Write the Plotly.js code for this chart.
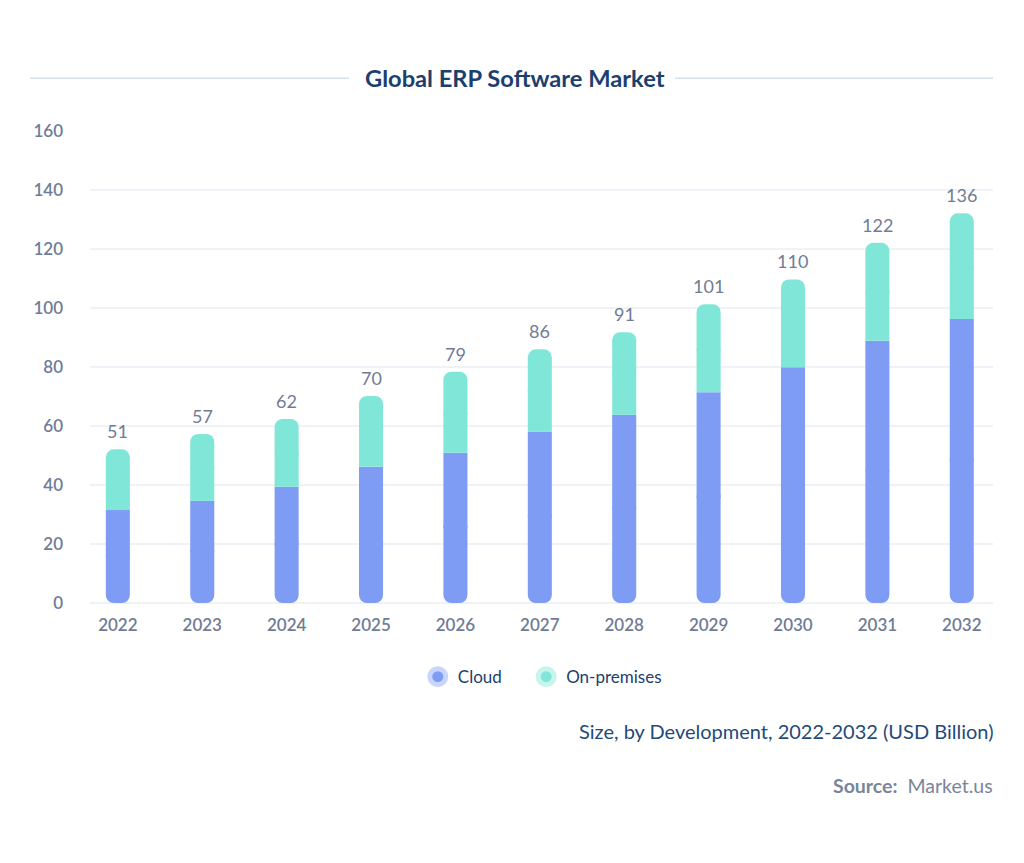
<!DOCTYPE html>
<html>
<head>
<meta charset="utf-8">
<script src="https://cdn.plot.ly/plotly-3.0.1.min.js"></script>
<style>
  html, body { margin: 0; padding: 0; background: #ffffff; }
  #chart { width: 1024px; height: 863px; }
</style>
</head>
<body>
<div id="chart"></div>
<script>
const years = ["2022","2023","2024","2025","2026","2027","2028","2029","2030","2031","2032"];
const cloud = [31.5, 34.6, 39.4, 46.2, 50.9, 58.1, 63.8, 71.4, 79.9, 88.9, 96.3];
const onPremises = [20.6, 22.7, 23.0, 24.0, 27.5, 27.9, 28.0, 29.9, 29.8, 33.2, 35.8];
const totalLabels = ["51","57","62","70","79","86","91","101","110","122","136"];
const seriesNames = ["Cloud", "On-premises"];

const cloudColor = "#7f9cf5";
const premColor = "#80e6d8";
const tickColor = "#6f7c96";
const navy = "#1c406e";
const FONT = "Lato, 'Open Sans', sans-serif";

const totals = cloud.map((v, i) => v + onPremises[i]);
const zeros = cloud.map(() => 0);
const BARW = 0.285;
const OVL = 3; // overlap (in axis units) used to hide the inner rounded corners

// Each segment = rounded outer half + square inner half, so the column has
// rounded top and bottom ends and a flat Cloud / On-premises boundary.
const traces = [
  { // Cloud, lower half (rounded bottom)
    type: "bar", x: years, base: zeros, y: cloud.map(v => v / 2 + OVL),
    name: seriesNames[0], marker: { color: cloudColor, cornerradius: 8 },
    width: BARW, showlegend: false, hoverinfo: "skip"
  },
  { // Cloud, upper half (square)
    type: "bar", x: years, base: cloud.map(v => v / 2), y: cloud.map(v => v / 2),
    name: seriesNames[0], marker: { color: cloudColor, cornerradius: 0 },
    width: BARW, showlegend: false, hoverinfo: "skip"
  },
  { // On-premises, upper half (rounded top)
    type: "bar", x: years, base: onPremises.map((v, i) => cloud[i] + v / 2 - OVL),
    y: onPremises.map(v => v / 2 + OVL),
    name: seriesNames[1], marker: { color: premColor, cornerradius: 8 },
    width: BARW, showlegend: false, hoverinfo: "skip"
  },
  { // On-premises, lower half (square)
    type: "bar", x: years, base: cloud, y: onPremises.map(v => v / 2),
    name: seriesNames[1], marker: { color: premColor, cornerradius: 0 },
    width: BARW, showlegend: false, hoverinfo: "skip"
  },
  {
    type: "scatter", mode: "markers", x: [null], y: [null], name: seriesNames[0],
    legend: "legend",
    marker: { color: cloudColor, size: 16, line: { color: "#c9d5fb", width: 5 } }
  },
  {
    type: "scatter", mode: "markers", x: [null], y: [null], name: seriesNames[1],
    legend: "legend2",
    marker: { color: premColor, size: 16, line: { color: "#c8f4ee", width: 5 } }
  }
];

// value labels above each column (x given as category index)
const labelAnnotations = years.map((yr, i) => ({
  x: years.indexOf(yr), y: totals[i], xref: "x", yref: "y", text: totalLabels[i],
  showarrow: false, xanchor: "center", yanchor: "bottom", yshift: 5,
  font: { family: FONT, size: 18, color: tickColor }
}));

const legendCommon = {
  orientation: "h", y: -0.157, yanchor: "middle", xanchor: "left",
  font: { family: FONT, size: 17, color: navy }, itemsizing: "trace",
  itemwidth: 30, bgcolor: "rgba(0,0,0,0)"
};

const layout = {
  width: 1024, height: 863,
  paper_bgcolor: "#ffffff", plot_bgcolor: "#ffffff",
  margin: { l: 90, r: 31, t: 131, b: 260 },
  barmode: "overlay",
  font: { family: FONT, color: tickColor },
  xaxis: {
    type: "category", range: [-0.33, 10.37], showgrid: false, zeroline: false,
    showline: false, ticks: "", ticklabelstandoff: 10,
    tickfont: { family: FONT, size: 17, color: tickColor, weight: 600 }
  },
  yaxis: {
    range: [0, 160], dtick: 20, showgrid: true, gridcolor: "#eff2f7", gridwidth: 1.5,
    zeroline: true, zerolinecolor: "#eff2f7", zerolinewidth: 1.5, showline: false,
    ticks: "", ticklabelstandoff: 26,
    tickfont: { family: FONT, size: 17, color: tickColor, weight: 600 }
  },
  showlegend: true,
  legend: Object.assign({}, legendCommon, { x: 0.363 }),
  legend2: Object.assign({}, legendCommon, { x: 0.483 }),
  shapes: [
    { type: "line", xref: "paper", yref: "paper", x0: -0.0664, x1: 0.2868, y0: 1.112, y1: 1.112,
      line: { color: "#d6e0eb", width: 1.5 } },
    { type: "line", xref: "paper", yref: "paper", x0: 0.6478, x1: 1.0, y0: 1.112, y1: 1.112,
      line: { color: "#d6e0eb", width: 1.5 } }
  ],
  annotations: [
    { text: "Global ERP Software Market", xref: "paper", yref: "paper", x: 0.4706, y: 1.112,
      xanchor: "center", yanchor: "middle", showarrow: false,
      font: { family: FONT, size: 23.7, color: navy, weight: "bold" } },
    { text: "Size, by Development, 2022-2032 (USD Billion)", xref: "paper", yref: "paper",
      x: 1, y: -0.271, xanchor: "right", yanchor: "middle", showarrow: false, xshift: 2,
      font: { family: FONT, size: 20, color: "#1f4a7a" } },
    { text: "<b>Source:</b>  Market.us", xref: "paper", yref: "paper",
      x: 1, y: -0.386, xanchor: "right", yanchor: "middle", showarrow: false, xshift: 2,
      font: { family: FONT, size: 19.5, color: "#7a8599" } }
  ].concat(labelAnnotations)
};

Plotly.newPlot("chart", traces, layout, { displayModeBar: false, staticPlot: true });
</script>
</body>
</html>
